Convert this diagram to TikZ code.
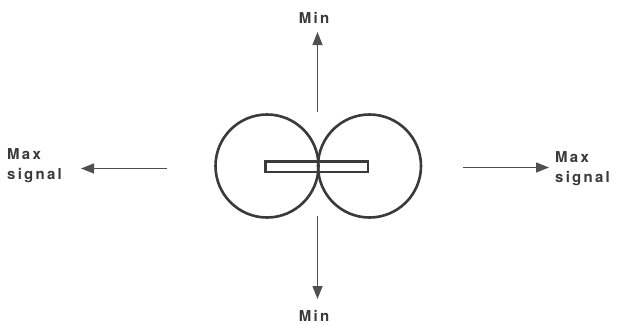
\documentclass[tikz,border=0pt]{standalone}
\usepackage{fontspec}
\setmainfont{TeX Gyre Heros}
\usetikzlibrary{arrows.meta}
\definecolor{ink}{HTML}{3a3a3a}
\definecolor{arr}{HTML}{505050}
\begin{document}
\begin{tikzpicture}[x=1pt,y=-1pt,
  lobe/.style={draw=ink,line width=2.6pt},
  dir/.style={draw=arr,line width=1.4pt,-{Triangle[length=13pt,width=10pt]}},
  lbl/.style={font=\fontsize{15}{17}\selectfont\bfseries\addfontfeatures{LetterSpace=15},text=ink,inner sep=0pt,align=left}]
\useasboundingbox (0,0) rectangle (618,324);
\fill[white] (0,0) rectangle (618,324);
\draw[lobe] (267,166) circle (51.5);
\draw[lobe] (369.5,166) circle (51.5);
\draw[lobe,line width=2.1pt] (265.5,161.5) rectangle (368,172);
\coordinate (ts) at (317.5,112);
\coordinate (tt) at (317.5,32);
\coordinate (bs) at (317.5,216);
\coordinate (bt) at (317.5,299);
\coordinate (ls) at (167,168.5);
\coordinate (lt) at (81,168.5);
\coordinate (rs) at (463,167.5);
\coordinate (rt) at (549,167.5);
\draw[dir] (ts) -- (tt);
\draw[dir] (bs) -- (bt);
\draw[dir] (ls) -- (lt);
\draw[dir] (rs) -- (rt);
\node[lbl] (tmin) at (314,18) {Min};
\node[lbl] (bmin) at (314,316) {Min};
\node[lbl,anchor=west] (lmax) at (7,166) {Max\\[3pt]signal};
\node[lbl,anchor=west] (rmax) at (555,169) {Max\\[3pt]signal};
\end{tikzpicture}
\end{document}
